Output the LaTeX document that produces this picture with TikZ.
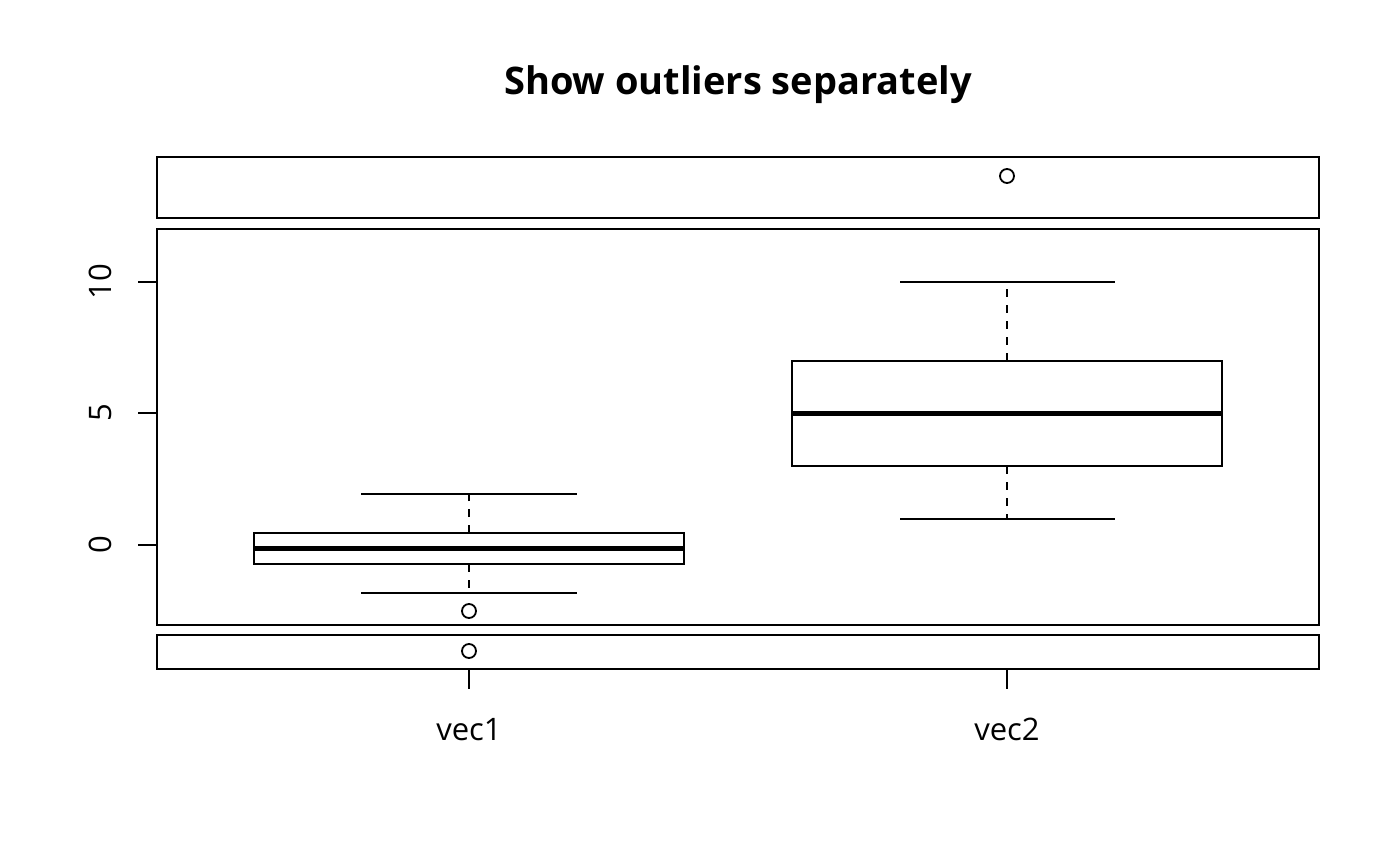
\documentclass[tikz,border=0pt]{standalone}
\usepackage{fontspec}
\setmainfont{Open Sans}
\usetikzlibrary{positioning}

\begin{document}
\begin{tikzpicture}[x=1pt,y=-1pt,line width=2pt,
                    every node/.style={inner sep=0pt}]
  \tikzstyle{panel}=[draw=black,line width=2pt]
  \tikzstyle{whisk}=[dash pattern=on 8pt off 8pt]
  \tikzstyle{median}=[line width=5pt]
  \tikzstyle{outlier}=[circle,draw,minimum size=14pt,line width=1.8pt]
  \tikzstyle{lab}=[font=\fontsize{31}{36}\selectfont]

  \useasboundingbox (0,0) rectangle (1400,866);

  % title
  \node[font=\fontsize{38}{44}\selectfont\bfseries,anchor=base] (title) at (738,95) {Show outliers separately};

  % panels
  \draw[panel] (157,157) rectangle (1319,218);
  \draw[panel] (157,229) rectangle (1319,625);
  \draw[panel] (157,635) rectangle (1319,669);

  % y axis
  \draw (157,282) -- (138,282);
  \draw (157,413) -- (138,413);
  \draw (157,545) -- (138,545);
  \node[lab,rotate=90,anchor=base] (y10) at (111,282) {10};
  \node[lab,rotate=90,anchor=base] (y5)  at (111,413) {5};
  \node[lab,rotate=90,anchor=base] (y0)  at (111,545) {0};

  % x axis
  \draw (469,669) -- (469,689);
  \draw (1007,669) -- (1007,689);
  \node[lab,anchor=base] (vec1) at (469,740) {vec1};
  \node[lab,anchor=base] (vec2) at (1007,740) {vec2};

  % vec1
  \coordinate (w1t) at (469,494);
  \coordinate (w1b) at (469,593);
  \coordinate (q1t) at (469,533);
  \coordinate (q1b) at (469,564);
  \draw[whisk] (q1t) -- (w1t);
  \draw[whisk] (q1b) -- (w1b);
  \draw (361,494) -- (577,494);
  \draw (361,593) -- (577,593);
  \draw (254,533) rectangle (684,564);
  \draw[median] (254,548) -- (684,548);
  \node[outlier] (o1) at (469,611) {};
  \node[outlier] (o2) at (469,651) {};

  % vec2
  \coordinate (w2t) at (1007,282);
  \coordinate (w2b) at (1007,519);
  \coordinate (q2t) at (1007,361);
  \coordinate (q2b) at (1007,466);
  \draw[whisk] (q2t) -- (w2t);
  \draw[whisk] (q2b) -- (w2b);
  \draw (900,282) -- (1115,282);
  \draw (900,519) -- (1115,519);
  \draw (792,361) rectangle (1222,466);
  \draw[median] (792,413) -- (1222,413);
  \node[outlier] (o3) at (1007,176) {};
\end{tikzpicture}
\end{document}
